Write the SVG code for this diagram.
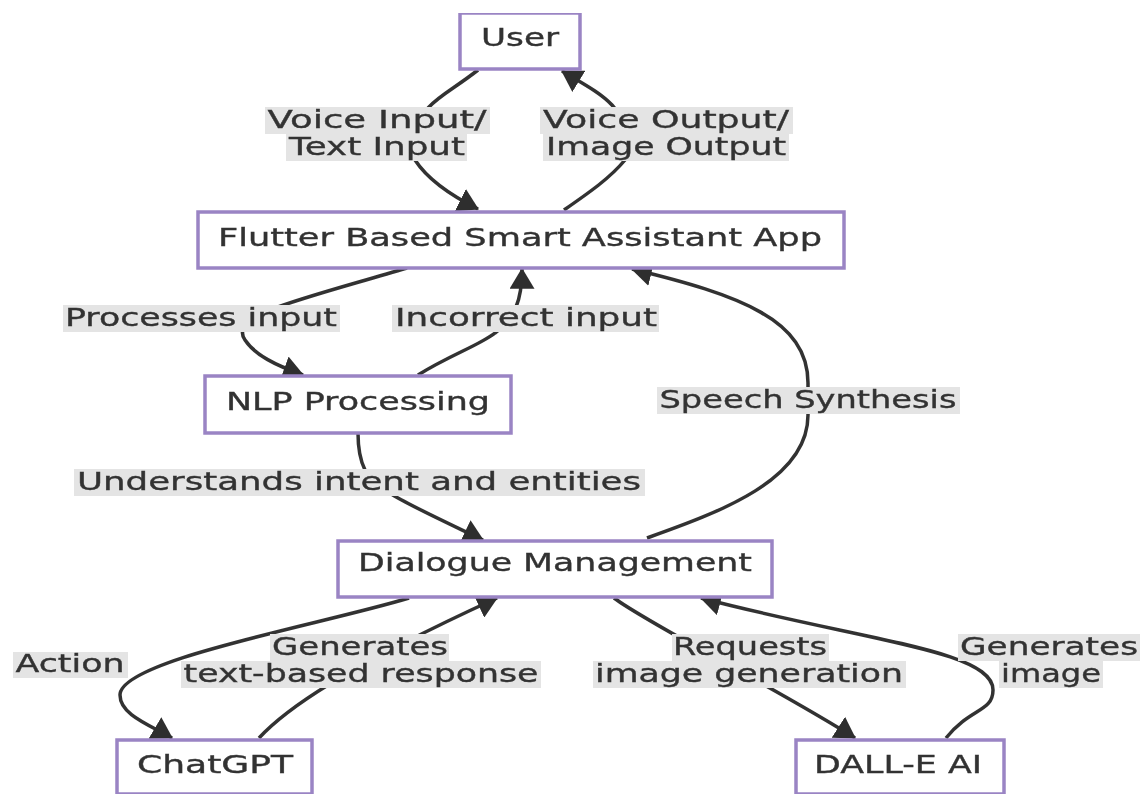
<svg xmlns="http://www.w3.org/2000/svg" width="1145" height="796" viewBox="0 0 1145 796">
<defs><marker id="b" viewBox="0 0 10 12" refX="9.5" refY="6" markerWidth="21" markerHeight="25" markerUnits="userSpaceOnUse" orient="auto"><path d="M0 0L10 6L0 12Z" fill="#2e2e2e"/></marker>
<filter id="soft" x="0" y="0" width="100%" height="100%"><feGaussianBlur stdDeviation="0.6"/></filter></defs>
<style>
text{font-family:"DejaVu Sans",sans-serif;font-size:24px;fill:#333;stroke:#333;stroke-width:.35;text-anchor:middle}
.n{fill:#fff;stroke:#9a84c4;stroke-width:3.5}
.e{fill:none;stroke:#333;stroke-width:3.5;marker-end:url(#b)}
.l{fill:#e4e4e4}
</style>
<rect width="1145" height="796" fill="#fff"/>
<g filter="url(#soft)">
<g id="connectors">
<path class="e" d="M478 70C455 88 440 95 429 107C412 125 405 145 415 160C428 180 450 195 478 209"/>
<path class="e" d="M564 210C590 192 610 178 625 160C635 145 630 125 612 105C600 92 580 82 562 71"/>
<path class="e" d="M407 268C350 285 300 298 270 310C245 320 238 330 245 340C255 355 275 365 303 375"/>
<path class="e" d="M418 375C450 355 480 345 495 333C515 318 522 300 522 269"/>
<path class="e" d="M647 538C720 512 808 480 808 415L808 383C808 320 740 295 632 269"/>
<path class="e" d="M358 433C358 450 360 460 365 470C375 490 410 505 483 540"/>
<path class="e" d="M409 598C320 625 120 660 120 695C120 715 150 725 172 738"/>
<path class="e" d="M259 738C285 710 340 670 497 598"/>
<path class="e" d="M614 598C650 625 780 690 855 738"/>
<path class="e" d="M946 738C970 708 993 712 993 690C993 650 860 640 701 598"/>
</g>
<g id="labels">
<rect class="l" x="265" y="107" width="225" height="27"/><text x="377" y="128" textLength="219" lengthAdjust="spacingAndGlyphs">Voice Input/</text>
<rect class="l" x="286" y="134" width="181" height="27"/><text x="377" y="155" textLength="176" lengthAdjust="spacingAndGlyphs">Text Input</text>
<rect class="l" x="540" y="107" width="253" height="27"/><text x="666" y="128" textLength="246" lengthAdjust="spacingAndGlyphs">Voice Output/</text>
<rect class="l" x="543" y="134" width="246" height="27"/><text x="666" y="155" textLength="240" lengthAdjust="spacingAndGlyphs">Image Output</text>
<rect class="l" x="63" y="305" width="277" height="27"/><text x="201" y="326" textLength="272" lengthAdjust="spacingAndGlyphs">Processes input</text>
<rect class="l" x="392" y="305" width="267" height="27"/><text x="526" y="326" textLength="262" lengthAdjust="spacingAndGlyphs">Incorrect input</text>
<rect class="l" x="657" y="387" width="303" height="27"/><text x="808" y="408" textLength="297" lengthAdjust="spacingAndGlyphs">Speech Synthesis</text>
<rect class="l" x="74" y="469" width="571" height="27"/><text x="359" y="490" textLength="564" lengthAdjust="spacingAndGlyphs">Understands intent and entities</text>
<rect class="l" x="13" y="652" width="115" height="26"/><text x="70" y="672" textLength="109" lengthAdjust="spacingAndGlyphs">Action</text>
<rect class="l" x="270" y="634" width="179" height="27"/><text x="360" y="655" textLength="176" lengthAdjust="spacingAndGlyphs">Generates</text>
<rect class="l" x="181" y="661" width="360" height="27"/><text x="361" y="682" textLength="355" lengthAdjust="spacingAndGlyphs">text-based response</text>
<rect class="l" x="672" y="634" width="157" height="27"/><text x="750" y="655" textLength="154" lengthAdjust="spacingAndGlyphs">Requests</text>
<rect class="l" x="593" y="661" width="313" height="27"/><text x="749" y="682" textLength="308" lengthAdjust="spacingAndGlyphs">image generation</text>
<rect class="l" x="958" y="634" width="182" height="27"/><text x="1049" y="655" textLength="178" lengthAdjust="spacingAndGlyphs">Generates</text>
<rect class="l" x="999" y="661" width="104" height="27"/><text x="1051" y="682" textLength="100" lengthAdjust="spacingAndGlyphs">image</text>
</g>
<g id="user"><rect class="n" x="460" y="13" width="120" height="56"/><text x="520" y="46" textLength="78" lengthAdjust="spacingAndGlyphs">User</text></g>
<g id="app"><rect class="n" x="198" y="212" width="646" height="56"/><text x="520" y="246" textLength="604" lengthAdjust="spacingAndGlyphs">Flutter Based Smart Assistant App</text></g>
<g id="nlp"><rect class="n" x="205" y="376" width="306" height="57"/><text x="358" y="410" textLength="264" lengthAdjust="spacingAndGlyphs">NLP Processing</text></g>
<g id="dialogue"><rect class="n" x="338" y="541" width="434" height="56"/><text x="555" y="571" textLength="394" lengthAdjust="spacingAndGlyphs">Dialogue Management</text></g>
<g id="chatgpt"><rect class="n" x="117" y="740" width="195" height="54"/><text x="215" y="773" textLength="156" lengthAdjust="spacingAndGlyphs">ChatGPT</text></g>
<g id="dalle"><rect class="n" x="796" y="740" width="208" height="54"/><text x="898" y="773" textLength="168" lengthAdjust="spacingAndGlyphs">DALL-E AI</text></g>
</g>
</svg>
